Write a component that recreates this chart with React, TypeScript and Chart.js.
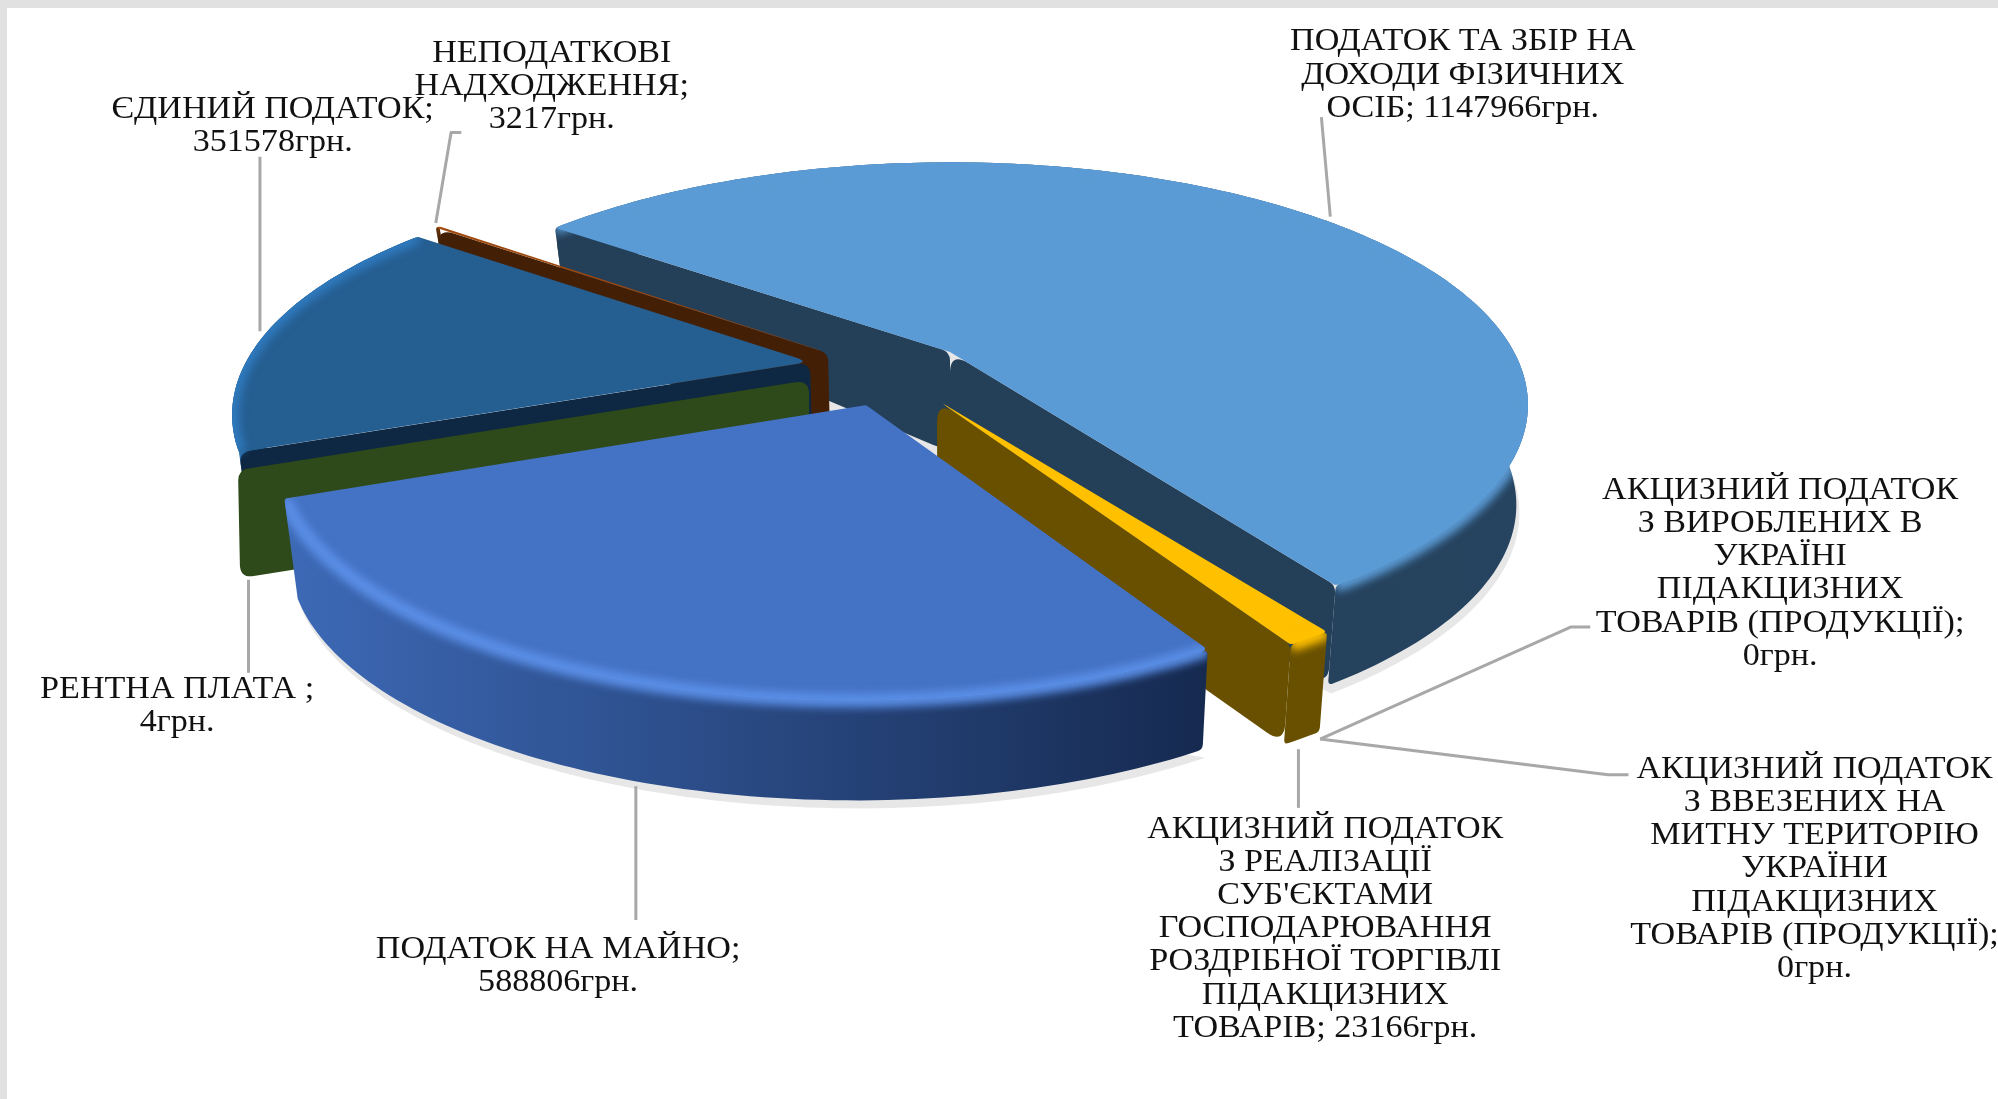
import React, { useEffect, useRef } from "react";
import { Chart, registerables } from "chart.js";

Chart.register(...registerables);

// ---- data ----
const categories = [
  "ПОДАТОК ТА ЗБІР НА ДОХОДИ ФІЗИЧНИХ ОСІБ",
  "АКЦИЗНИЙ ПОДАТОК З ВИРОБЛЕНИХ В УКРАЇНІ ПІДАКЦИЗНИХ ТОВАРІВ (ПРОДУКЦІЇ)",
  "АКЦИЗНИЙ ПОДАТОК З ВВЕЗЕНИХ НА МИТНУ ТЕРИТОРІЮ УКРАЇНИ ПІДАКЦИЗНИХ ТОВАРІВ (ПРОДУКЦІЇ)",
  "АКЦИЗНИЙ ПОДАТОК З РЕАЛІЗАЦІЇ СУБ'ЄКТАМИ ГОСПОДАРЮВАННЯ РОЗДРІБНОЇ ТОРГІВЛІ ПІДАКЦИЗНИХ ТОВАРІВ",
  "ПОДАТОК НА МАЙНО",
  "РЕНТНА ПЛАТА",
  "ЄДИНИЙ ПОДАТОК",
  "НЕПОДАТКОВІ НАДХОДЖЕННЯ",
];
const values = [1147966, 0, 0, 23166, 588806, 4, 351578, 3217];
const unit = "грн.";
const labelLines = [
  ["ПОДАТОК ТА ЗБІР НА", "ДОХОДИ ФІЗИЧНИХ", "ОСІБ; "],
  ["АКЦИЗНИЙ ПОДАТОК", "З ВИРОБЛЕНИХ В", "УКРАЇНІ", "ПІДАКЦИЗНИХ", "ТОВАРІВ (ПРОДУКЦІЇ);", ""],
  ["АКЦИЗНИЙ ПОДАТОК", "З ВВЕЗЕНИХ НА", "МИТНУ ТЕРИТОРІЮ", "УКРАЇНИ", "ПІДАКЦИЗНИХ", "ТОВАРІВ (ПРОДУКЦІЇ);", ""],
  ["АКЦИЗНИЙ ПОДАТОК", "З РЕАЛІЗАЦІЇ", "СУБ'ЄКТАМИ", "ГОСПОДАРЮВАННЯ", "РОЗДРІБНОЇ ТОРГІВЛІ", "ПІДАКЦИЗНИХ", "ТОВАРІВ; "],
  ["ПОДАТОК НА МАЙНО;", ""],
  ["РЕНТНА ПЛАТА ;", ""],
  ["ЄДИНИЙ ПОДАТОК;", ""],
  ["НЕПОДАТКОВІ", "НАДХОДЖЕННЯ;", ""],
];

// ---- colours ----
const topColors = ["#5b9bd5", "#a5a5a5", "#7f7f7f", "#ffc000", "#4472c4", "#70ad47", "#255e91", "#9e480e"];
const faceColors = ["#243f58", "#555555", "#444444", "#685000", "#1f3864", "#2e4a1a", "#0e2742", "#432005"];
const sideLeft = ["#243f58", "#555555", "#444444", "#685000", "#3d69b6", "#2e4a1a", "#2a6aa6", "#432005"];
const sideRight = ["#26435f", "#555555", "#444444", "#685000", "#162a50", "#2e4a1a", "#1b4a75", "#432005"];
const bevelColors = ["#5b9bd5", "#a5a5a5", "#7f7f7f", "#ffc000", "#5a8ee6", "#70ad47", "#2f7abf", "#c05a12"];

// ---- view of the tilted pie ----
const VIEW = { cx: 950, cy: 352, A: 564, B: 231, k: 0.218 };
const sliceOffsets = [
  [0, 0], [0, 0], [0, 0], [-13, 48], [-96, 53], [-141, 28], [-140, 10], [-122, 1],
];
// small view corrections, in degrees, at the start and at the end of each slice
const twistStart = [-1, 0, 0, 1.5, 1.5, 0.8, 0.8, 0];
const twistEnd = [2, 0, 0, 1.5, 0, 0.8, 0, 0];
const apexNudgeX = [0, 0, 0, 0, 12, 0, 0, 0];
const sliceShrink = [0.98, 0.98, 0.98, 0.98, 0.98, 0.997, 0.98, 0.98];
const sliceDepth = [100, 100, 100, 100, 100, 108, 100, 100];
const drawOrder = [0, 7, 6, 5, 3, 4];
const S = 1998 / 1568;
const labelAnchors = [
  [1148, 33], [1397, 385], [1424, 604], [1040, 651], [438, 745], [139, 541], [214, 86], [433, 42],
];
const leaders = [
  [[1037, 92], [1044, 170]],
  [[1036, 580], [1233, 492], [1248, 492]],
  [[1036, 580], [1262, 608], [1278, 608]],
  [[1019, 588], [1019, 634]],
  [[499, 617], [499, 722]],
  [[195, 455], [195, 528]],
  [[204, 123], [204, 260]],
  [[362, 104], [354, 104], [342, 175]],
];

type P = { x: number; y: number };
let arcsNow: any[] = [];

function viewAngle(a0: number, i: number): number {
  const arc = arcsNow[i];
  const span = arc.endAngle - arc.startAngle;
  const f = span > 1e-6 ? (a0 - arc.startAngle) / span : 0;
  return a0 + ((twistStart[i] + (twistEnd[i] - twistStart[i]) * f) * Math.PI) / 180;
}
function top(a0: number, r: number, i: number): P {
  const a = viewAngle(a0, i);
  const u = r * Math.cos(a), v = r * Math.sin(a), w = 1 - VIEW.k * v;
  return {
    x: VIEW.cx + sliceOffsets[i][0] + (VIEW.A * u) / w + (r === 0 ? apexNudgeX[i] : 0),
    y: VIEW.cy + sliceOffsets[i][1] + (VIEW.B * v) / w,
  };
}
function bottom(a0: number, r: number, i: number): P {
  const p = top(a0, r, i);
  const v = r * Math.sin(viewAngle(a0, i));
  const depth = sliceDepth[i] + 65 * Math.min(0, v);
  return { x: VIEW.cx + (p.x - VIEW.cx) * sliceShrink[i], y: p.y + depth };
}
function tracePoly(target: any, pts: P[], radius: number) {
  const n = pts.length;
  for (let j = 0; j < n; j++) {
    const a = pts[(j - 1 + n) % n], c = pts[j], b = pts[(j + 1) % n];
    const l1 = Math.hypot(a.x - c.x, a.y - c.y), l2 = Math.hypot(b.x - c.x, b.y - c.y);
    const d1x = (c.x - a.x) / (l1 || 1), d1y = (c.y - a.y) / (l1 || 1);
    const d2x = (b.x - c.x) / (l2 || 1), d2y = (b.y - c.y) / (l2 || 1);
    const turn = Math.acos(Math.max(-1, Math.min(1, d1x * d2x + d1y * d2y)));
    if (turn < 0.3 || l1 < 0.01 || l2 < 0.01) {
      j ? target.lineTo(c.x, c.y) : target.moveTo(c.x, c.y);
      continue;
    }
    const t = Math.min(Math.tan(turn / 2), 2.5);
    const d = Math.min(radius * t, l1 / 2, l2 / 2);
    const p1 = { x: c.x - d1x * d, y: c.y - d1y * d };
    const p2 = { x: c.x + d2x * d, y: c.y + d2y * d };
    j ? target.lineTo(p1.x, p1.y) : target.moveTo(p1.x, p1.y);
    target.quadraticCurveTo(c.x, c.y, p2.x, p2.y);
  }
  target.closePath();
}
function polyPath(ctx: CanvasRenderingContext2D, pts: P[], radius: number) {
  ctx.beginPath();
  tracePoly(ctx, pts, radius);
}
function rimAngles(s: number, e: number): number[] {
  const n = Math.max(1, Math.ceil(Math.abs(e - s) / 0.02));
  const out: number[] = [];
  for (let j = 0; j <= n; j++) out.push(s + ((e - s) * j) / n);
  return out;
}

const pie3d = {
  id: "pie3d",
  beforeDatasetsDraw(chart: any) {
    const ctx: CanvasRenderingContext2D = chart.ctx;
    const arcs = chart.getDatasetMeta(0).data;
    arcsNow = arcs;
    ctx.save();
    ctx.fillStyle = "#e1e1e1";
    ctx.fillRect(0, 0, 1998, 8);
    ctx.fillRect(0, 0, 7, 1099);
    ctx.fillStyle = "#e7e7e7";
    for (const i of drawOrder) {
      const arc = arcs[i];
      if (arc.endAngle - arc.startAngle < 0.01) continue;
      const b = rimAngles(arc.startAngle, arc.endAngle).map((a) => {
        const p = bottom(a, 1, i);
        return { x: p.x + 3, y: p.y + 8 };
      });
      polyPath(ctx, b, 1);
      ctx.fill();
    }
    for (const i of drawOrder) {
      const arc = arcs[i];
      const s = arc.startAngle, e = arc.endAngle;
      const angles = rimAngles(s, e);
      const rimTop = angles.map((a) => top(a, 1, i));
      const rimBot = angles.map((a) => bottom(a, 1, i));
      const apex = top(s, 0, i);
      const apexB = bottom(s, 0, i);
      const xs = rimTop.map((p) => p.x);
      const minX = Math.min(...xs), maxX = Math.max(...xs);
      if (e - s > 0.001) {
        const g = ctx.createLinearGradient(minX, 0, Math.max(maxX, minX + 1), 0);
        g.addColorStop(0, sideLeft[i]);
        g.addColorStop(1, sideRight[i]);
        ctx.fillStyle = g;
        polyPath(ctx, [...rimTop, ...rimBot.slice().reverse()], 8);
        ctx.fill();
      }
      ctx.fillStyle = faceColors[i];
      if (Math.cos(s) < 0) {
        polyPath(ctx, [apex, top(s, 1, i), bottom(s, 1, i), apexB], 12);
        ctx.fill();
      }
      if (Math.cos(e) > 0) {
        polyPath(ctx, [apex, top(e, 1, i), bottom(e, 1, i), apexB], 12);
        ctx.fill();
      }
      if (e - s > 0.001) {
        const outline = [apex, ...rimTop];
        ctx.fillStyle = topColors[i];
        polyPath(ctx, outline, 6);
        ctx.fill();
        ctx.save();
        ctx.beginPath();
        tracePoly(ctx, outline, 6);
        tracePoly(ctx, [...rimTop, ...rimBot.slice().reverse()], 8);
        ctx.clip();
        ctx.filter = "blur(4px)";
        ctx.strokeStyle = bevelColors[i];
        ctx.lineWidth = 14;
        ctx.beginPath();
        rimTop.forEach((p, j) => (j ? ctx.lineTo(p.x, p.y) : ctx.moveTo(p.x, p.y)));
        ctx.stroke();
        ctx.restore();
      }
    }
    ctx.restore();
    return false;
  },
  afterDraw(chart: any) {
    const ctx: CanvasRenderingContext2D = chart.ctx;
    ctx.save();
    ctx.strokeStyle = "#a8a8a8";
    ctx.lineWidth = 3;
    ctx.lineJoin = "round";
    for (const line of leaders) {
      ctx.beginPath();
      line.forEach((p, j) => (j ? ctx.lineTo(p[0] * S, p[1] * S) : ctx.moveTo(p[0] * S, p[1] * S)));
      ctx.stroke();
    }
    ctx.fillStyle = "#111111";
    ctx.font = '32px "Liberation Serif", serif';
    ctx.textAlign = "center";
    ctx.textBaseline = "middle";
    labelLines.forEach((lines, i) => {
      lines.forEach((ln, j) => {
        const text = j === lines.length - 1 ? ln + values[i] + unit : ln;
        ctx.save();
        ctx.translate(labelAnchors[i][0] * S, (labelAnchors[i][1] + j * 26) * S);
        ctx.scale(1.065, 1);
        ctx.fillText(text, 0, 0);
        ctx.restore();
      });
    });
    ctx.restore();
  },
};

export default function App() {
  const ref = useRef<HTMLCanvasElement>(null);
  useEffect(() => {
    document.body.style.margin = "0";
    document.body.style.background = "#ffffff";
    const chart = new Chart(ref.current!, {
      type: "pie",
      data: {
        labels: categories,
        datasets: [{ data: values, backgroundColor: topColors, borderWidth: 0 }],
      },
      options: {
        responsive: false,
        animation: false,
        rotation: -51.5,
        plugins: { legend: { display: false }, tooltip: { enabled: false } },
      },
      plugins: [pie3d],
    } as any);
    return () => chart.destroy();
  }, []);
  return <canvas ref={ref} width={1998} height={1099} style={{ display: "block" }} />;
}
